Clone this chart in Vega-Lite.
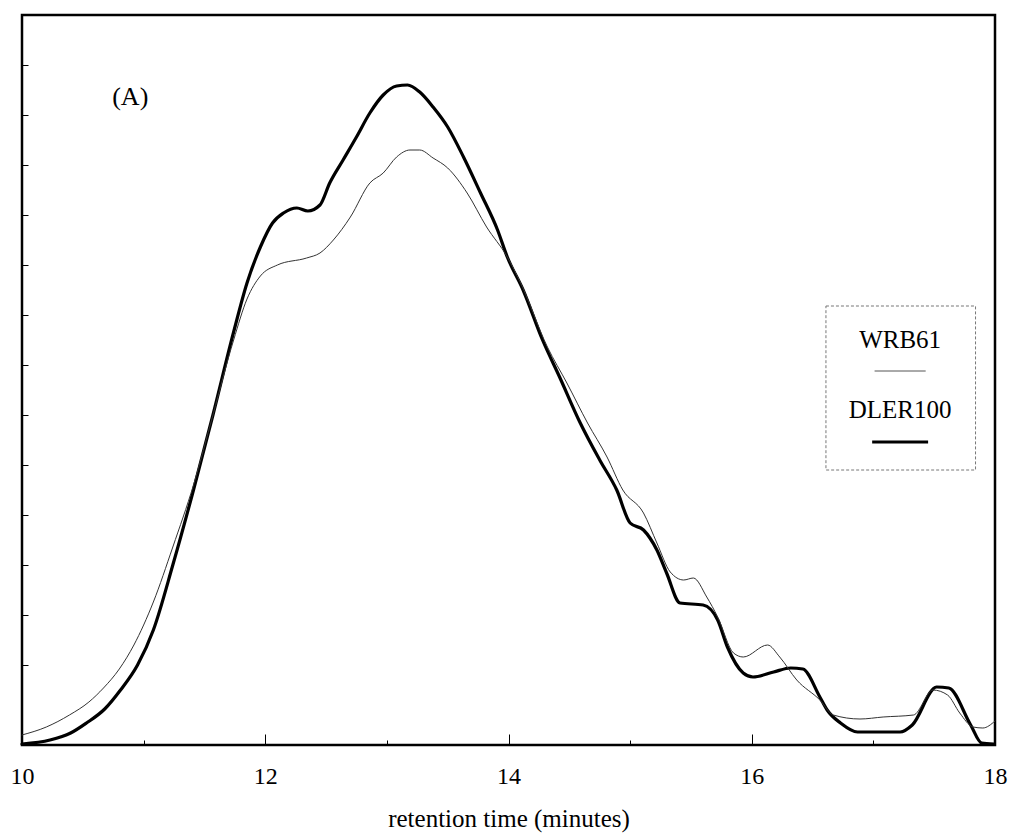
{
  "$schema": "https://vega.github.io/schema/vega-lite/v6.json",
  "width": 973,
  "height": 730,
  "autosize": {"type": "none"},
  "padding": {"left": 22, "top": 15, "right": 18, "bottom": 90},
  "background": "white",
  "config": {
    "view": {"stroke": "black", "strokeWidth": 2.5},
    "font": "Liberation Serif",
    "axis": {"grid": false, "domain": false, "labelFont": "Liberation Serif", "titleFont": "Liberation Serif", "labelColor": "black", "titleColor": "black", "tickColor": "black"}
  },
  "layer": [
    {
      "data": {"values": [
        {"series": "DLER100", "t": 10.00, "v": 0.1},
        {"series": "DLER100", "t": 10.23, "v": 0.5},
        {"series": "DLER100", "t": 10.40, "v": 1.2},
        {"series": "DLER100", "t": 10.53, "v": 2.2},
        {"series": "DLER100", "t": 10.68, "v": 3.6},
        {"series": "DLER100", "t": 10.81, "v": 5.5},
        {"series": "DLER100", "t": 10.95, "v": 8.0},
        {"series": "DLER100", "t": 11.08, "v": 11.5},
        {"series": "DLER100", "t": 11.24, "v": 18.0},
        {"series": "DLER100", "t": 11.41, "v": 25.5},
        {"series": "DLER100", "t": 11.57, "v": 33.0},
        {"series": "DLER100", "t": 11.74, "v": 41.3},
        {"series": "DLER100", "t": 11.85, "v": 46.2},
        {"series": "DLER100", "t": 11.96, "v": 49.8},
        {"series": "DLER100", "t": 12.06, "v": 52.2},
        {"series": "DLER100", "t": 12.15, "v": 53.2},
        {"series": "DLER100", "t": 12.26, "v": 53.7},
        {"series": "DLER100", "t": 12.35, "v": 53.4},
        {"series": "DLER100", "t": 12.45, "v": 54.0},
        {"series": "DLER100", "t": 12.53, "v": 56.2},
        {"series": "DLER100", "t": 12.64, "v": 58.5},
        {"series": "DLER100", "t": 12.75, "v": 60.8},
        {"series": "DLER100", "t": 12.86, "v": 63.2},
        {"series": "DLER100", "t": 12.97, "v": 65.0},
        {"series": "DLER100", "t": 13.08, "v": 65.9},
        {"series": "DLER100", "t": 13.17, "v": 66.0},
        {"series": "DLER100", "t": 13.27, "v": 65.3},
        {"series": "DLER100", "t": 13.38, "v": 63.8},
        {"series": "DLER100", "t": 13.50, "v": 61.8},
        {"series": "DLER100", "t": 13.63, "v": 58.8},
        {"series": "DLER100", "t": 13.77, "v": 55.2},
        {"series": "DLER100", "t": 13.91, "v": 51.5},
        {"series": "DLER100", "t": 13.99, "v": 48.8},
        {"series": "DLER100", "t": 14.12, "v": 45.5},
        {"series": "DLER100", "t": 14.28, "v": 40.5},
        {"series": "DLER100", "t": 14.42, "v": 36.8},
        {"series": "DLER100", "t": 14.59, "v": 32.2},
        {"series": "DLER100", "t": 14.75, "v": 28.5},
        {"series": "DLER100", "t": 14.89, "v": 25.5},
        {"series": "DLER100", "t": 15.00, "v": 22.2},
        {"series": "DLER100", "t": 15.11, "v": 21.5},
        {"series": "DLER100", "t": 15.22, "v": 19.5},
        {"series": "DLER100", "t": 15.30, "v": 17.2},
        {"series": "DLER100", "t": 15.41, "v": 14.2},
        {"series": "DLER100", "t": 15.60, "v": 14.0},
        {"series": "DLER100", "t": 15.72, "v": 12.5},
        {"series": "DLER100", "t": 15.80, "v": 9.8},
        {"series": "DLER100", "t": 15.93, "v": 7.2},
        {"series": "DLER100", "t": 16.01, "v": 6.8},
        {"series": "DLER100", "t": 16.18, "v": 7.3},
        {"series": "DLER100", "t": 16.32, "v": 7.7},
        {"series": "DLER100", "t": 16.42, "v": 7.6},
        {"series": "DLER100", "t": 16.56, "v": 4.8},
        {"series": "DLER100", "t": 16.62, "v": 3.5},
        {"series": "DLER100", "t": 16.73, "v": 2.2},
        {"series": "DLER100", "t": 16.87, "v": 1.3},
        {"series": "DLER100", "t": 17.22, "v": 1.3},
        {"series": "DLER100", "t": 17.32, "v": 2.0},
        {"series": "DLER100", "t": 17.52, "v": 5.8},
        {"series": "DLER100", "t": 17.62, "v": 5.7},
        {"series": "DLER100", "t": 17.80, "v": 2.0},
        {"series": "DLER100", "t": 17.89, "v": 0.2},
        {"series": "DLER100", "t": 17.99, "v": 0.1},
        {"series": "WRB61", "t": 10.00, "v": 1.0},
        {"series": "WRB61", "t": 10.20, "v": 1.8},
        {"series": "WRB61", "t": 10.39, "v": 3.0},
        {"series": "WRB61", "t": 10.55, "v": 4.3},
        {"series": "WRB61", "t": 10.67, "v": 5.7},
        {"series": "WRB61", "t": 10.80, "v": 7.6},
        {"series": "WRB61", "t": 10.92, "v": 10.0},
        {"series": "WRB61", "t": 11.08, "v": 14.3},
        {"series": "WRB61", "t": 11.24, "v": 19.8},
        {"series": "WRB61", "t": 11.41, "v": 26.0},
        {"series": "WRB61", "t": 11.57, "v": 33.0},
        {"series": "WRB61", "t": 11.74, "v": 40.5},
        {"series": "WRB61", "t": 11.85, "v": 44.6},
        {"series": "WRB61", "t": 11.96, "v": 46.9},
        {"series": "WRB61", "t": 12.10, "v": 48.0},
        {"series": "WRB61", "t": 12.34, "v": 48.7},
        {"series": "WRB61", "t": 12.45, "v": 49.2},
        {"series": "WRB61", "t": 12.56, "v": 50.5},
        {"series": "WRB61", "t": 12.70, "v": 52.8},
        {"series": "WRB61", "t": 12.86, "v": 56.2},
        {"series": "WRB61", "t": 12.97, "v": 57.2},
        {"series": "WRB61", "t": 13.08, "v": 58.8},
        {"series": "WRB61", "t": 13.19, "v": 59.5},
        {"series": "WRB61", "t": 13.27, "v": 59.5},
        {"series": "WRB61", "t": 13.38, "v": 58.7},
        {"series": "WRB61", "t": 13.50, "v": 57.7},
        {"series": "WRB61", "t": 13.66, "v": 55.2},
        {"series": "WRB61", "t": 13.82, "v": 51.8},
        {"series": "WRB61", "t": 13.99, "v": 48.8},
        {"series": "WRB61", "t": 14.10, "v": 46.2},
        {"series": "WRB61", "t": 14.32, "v": 39.8},
        {"series": "WRB61", "t": 14.48, "v": 36.2},
        {"series": "WRB61", "t": 14.65, "v": 32.2},
        {"series": "WRB61", "t": 14.81, "v": 28.8},
        {"series": "WRB61", "t": 14.94, "v": 25.5},
        {"series": "WRB61", "t": 15.11, "v": 23.2},
        {"series": "WRB61", "t": 15.22, "v": 20.2},
        {"series": "WRB61", "t": 15.33, "v": 17.3},
        {"series": "WRB61", "t": 15.44, "v": 16.5},
        {"series": "WRB61", "t": 15.52, "v": 16.7},
        {"series": "WRB61", "t": 15.63, "v": 14.8},
        {"series": "WRB61", "t": 15.72, "v": 12.8},
        {"series": "WRB61", "t": 15.85, "v": 9.2},
        {"series": "WRB61", "t": 15.93, "v": 8.8},
        {"series": "WRB61", "t": 16.13, "v": 10.0},
        {"series": "WRB61", "t": 16.23, "v": 8.8},
        {"series": "WRB61", "t": 16.37, "v": 6.5},
        {"series": "WRB61", "t": 16.56, "v": 4.5},
        {"series": "WRB61", "t": 16.67, "v": 3.0},
        {"series": "WRB61", "t": 16.89, "v": 2.6},
        {"series": "WRB61", "t": 17.08, "v": 2.8},
        {"series": "WRB61", "t": 17.33, "v": 3.0},
        {"series": "WRB61", "t": 17.49, "v": 5.5},
        {"series": "WRB61", "t": 17.61, "v": 5.0},
        {"series": "WRB61", "t": 17.71, "v": 3.2},
        {"series": "WRB61", "t": 17.82, "v": 1.8},
        {"series": "WRB61", "t": 17.90, "v": 1.7},
        {"series": "WRB61", "t": 18.00, "v": 2.4}
      ]},
      "mark": {"type": "line", "interpolate": "monotone", "strokeJoin": "round", "strokeCap": "round"},
      "encoding": {
        "x": {
          "field": "t", "type": "quantitative",
          "scale": {"domain": [10, 18], "nice": false, "zero": false},
          "axis": {
            "values": [10, 11, 12, 13, 14, 15, 16, 17, 18],
            "format": "d",
            "labelExpr": "datum.value % 2 === 0 ? datum.label : ''",
            "tickSize": {"condition": {"test": "datum.value % 2 === 0", "value": -11}, "value": -5},
            "tickWidth": 1,
            "labelFontSize": 24,
            "labelPadding": 30,
            "labelFlush": false,
            "labelOverlap": false,
            "title": "retention time (minutes)",
            "titleFontSize": 25,
            "titleFontWeight": "normal",
            "titlePadding": 12
          }
        },
        "y": {
          "field": "v", "type": "quantitative",
          "scale": {"domain": [0, 73], "nice": false},
          "axis": {
            "values": [8, 13, 18, 23, 28, 33, 38, 43, 48, 53, 58, 63, 68],
            "labels": false,
            "tickSize": -6,
            "tickWidth": 1,
            "title": null
          }
        },
        "detail": {"field": "series"},
        "strokeWidth": {"field": "series", "type": "nominal", "scale": {"domain": ["WRB61", "DLER100"], "range": [1, 3.2]}, "legend": null},
        "color": {"field": "series", "type": "nominal", "scale": {"domain": ["WRB61", "DLER100"], "range": ["#333333", "#000000"]}, "legend": null}
      }
    },
    {
      "data": {"values": [{}]},
      "mark": {"type": "text", "fontSize": 26, "font": "Liberation Serif", "color": "black", "align": "center", "baseline": "middle"},
      "encoding": {"x": {"datum": 10.89}, "y": {"datum": 64.8}, "text": {"value": "(A)"}}
    },
    {
      "data": {"values": [{}]},
      "mark": {"type": "rect", "fill": "white", "stroke": "#777777", "strokeWidth": 1, "strokeDash": [3, 2]},
      "encoding": {"x": {"datum": 16.61}, "x2": {"datum": 17.84}, "y": {"datum": 43.9}, "y2": {"datum": 27.5}}
    },
    {
      "data": {"values": [{}]},
      "mark": {"type": "text", "fontSize": 25, "font": "Liberation Serif", "color": "black", "align": "center", "baseline": "middle"},
      "encoding": {"x": {"datum": 17.22}, "y": {"datum": 40.5}, "text": {"value": "WRB61"}}
    },
    {
      "data": {"values": [{}]},
      "mark": {"type": "text", "fontSize": 25, "font": "Liberation Serif", "color": "black", "align": "center", "baseline": "middle"},
      "encoding": {"x": {"datum": 17.22}, "y": {"datum": 33.5}, "text": {"value": "DLER100"}}
    },
    {
      "data": {"values": [{}]},
      "mark": {"type": "rule", "color": "#555555", "strokeWidth": 1},
      "encoding": {"x": {"datum": 17.01}, "x2": {"datum": 17.43}, "y": {"datum": 37.4}}
    },
    {
      "data": {"values": [{}]},
      "mark": {"type": "rule", "color": "black", "strokeWidth": 3},
      "encoding": {"x": {"datum": 16.99}, "x2": {"datum": 17.45}, "y": {"datum": 30.3}}
    }
  ]
}
